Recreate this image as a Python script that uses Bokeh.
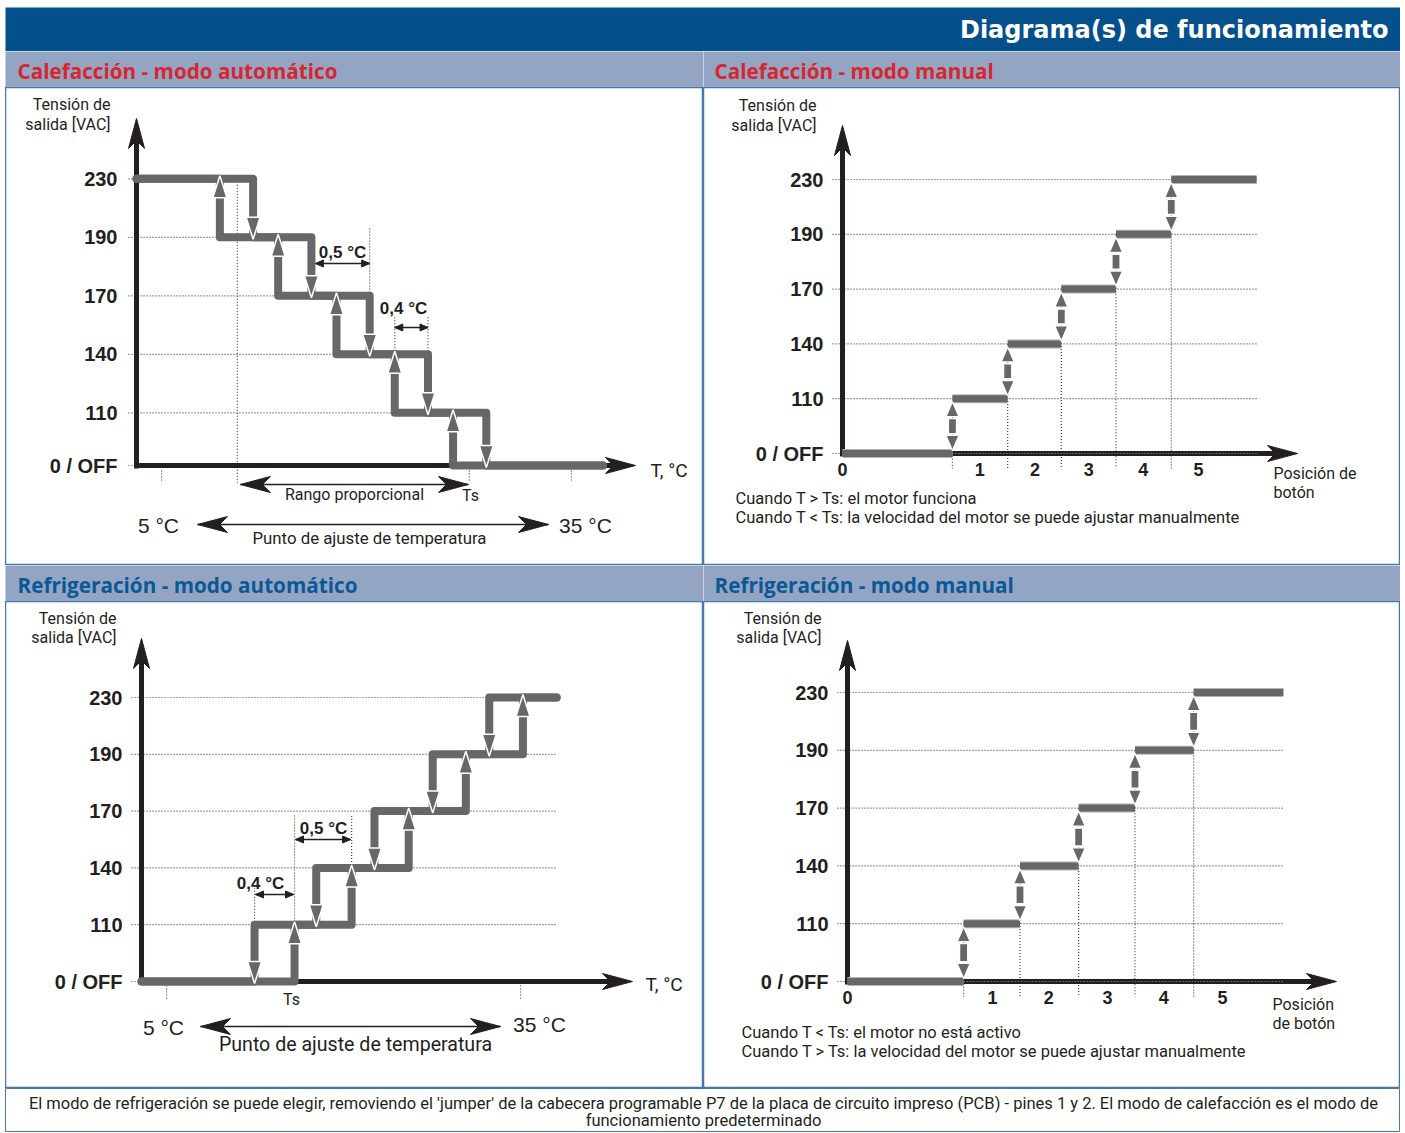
from bokeh.plotting import figure
from bokeh.layouts import column, row
from bokeh.models import ColumnDataSource, Range1d, LinearAxis, FixedTicker, Spacer
from bokeh.core.properties import value
from bokeh.embed import file_html
from bokeh.resources import INLINE

# ---------------- data ----------------
LEVELS = ["0 / OFF", "110", "140", "170", "190", "230"]
KNOB_LABELS = ["0", "1", "2", "3", "4", "5"]

# x unit = one step of the proportional band
HEAT_AUTO_DOWN_X = [2.0, 3.0, 4.0, 5.0, 6.0]        # T rising: 230->190->170->140->110->0
HEAT_AUTO_UP_X = [1.43, 2.43, 3.43, 4.43, 5.43]     # T falling: 0->110->...->230
HEAT_AUTO_END_X = 8.0
HEAT_AUTO_TS_X = 5.71
HEAT_AUTO_BAND_START_X = 1.73
HEAT_AUTO_TMIN_X = 0.43
HEAT_AUTO_TMAX_X = 7.46

COOL_AUTO_UP_X = [2.68, 3.68, 4.68, 5.68, 6.68]     # T rising: 0->110->...->230
COOL_AUTO_DOWN_X = [1.98, 3.06, 4.08, 5.10, 6.09]   # T falling
COOL_AUTO_END_X = 7.27
COOL_AUTO_TS_X = 2.68
COOL_AUTO_TMIN_X = 0.44
COOL_AUTO_TMAX_X = 6.64

HEAT_MAN_SWITCH_X = [2.01, 3.02, 4.0, 5.0, 6.01]
HEAT_MAN_END_X = 7.57
COOL_MAN_SWITCH_X = [2.02, 3.0, 4.02, 5.0, 6.02]
COOL_MAN_END_X = 7.58

# ---------------- style ----------------
GRAY = "#676767"
AXC = "#231f20"
DOT = "#404040"
BORDER = "#4479ad"
HEAD_BG = "#03508b"
BAND_BG = "#94a5c4"
RED = "#d7262e"
BLUE = "#0b5894"
OFF_X, OFF_Y = 5, 7
LEFT_W, RIGHT_W = 698, 697
TOTAL_W = LEFT_W + RIGHT_W
SMALL = 16.5


def frame_fig(w, h, bg, outline=None):
    p = figure(width=w, height=h, x_range=Range1d(0, w), y_range=Range1d(0, h),
               min_border=0, toolbar_location=None, output_backend="svg",
               x_axis_location=None, y_axis_location=None,
               background_fill_color=bg, border_fill_color=bg,
               outline_line_color=outline)
    p.grid.grid_line_color = None
    return p


def put_text(p, x, y, s, size, font="Roboto", style="normal", align="left",
             color=AXC, baseline="middle"):
    src = ColumnDataSource(dict(x=[x], y=[y], t=[s]))
    p.text(x="x", y="y", text="t", source=src, text_font=value(font),
           text_font_size=value(f"{size}px"), text_font_style=style,
           text_align=align, text_baseline=baseline, text_color=color)


def style_axis(ax, size, standoff):
    ax.axis_line_color = AXC
    ax.axis_line_width = 5
    ax.major_tick_line_color = None
    ax.minor_tick_line_color = None
    ax.major_tick_in = 0
    ax.major_tick_out = 0
    ax.minor_tick_in = 0
    ax.minor_tick_out = 0
    ax.major_label_text_font = "Liberation Sans"
    ax.major_label_text_font_style = "bold"
    ax.major_label_text_font_size = f"{size}px"
    ax.major_label_text_color = AXC
    ax.major_label_standoff = standoff


class Panel:
    def __init__(self, w, h, page_x, page_y, ox, oy, ux, uy, ypos):
        self.ox, self.oy, self.ux, self.uy = ox, oy, ux, uy
        self.ypos = list(ypos)
        xr = Range1d((page_x - ox) / ux, (page_x + w - ox) / ux)
        yr = Range1d((oy - page_y - h) / uy, (oy - page_y) / uy)
        p = figure(width=w, height=h, x_range=xr, y_range=yr, min_border=0,
                   toolbar_location=None, output_backend="svg",
                   x_axis_location=None, y_axis_location=None,
                   background_fill_color="white", border_fill_color="white",
                   outline_line_color=BORDER)
        p.outline_line_width = 1.5
        p.grid.grid_line_color = None
        self.p = p

    def X(self, px):
        return (px - self.ox) / self.ux

    def Y(self, py):
        return (self.oy - py) / self.uy

    def dx(self, n):
        return n / self.ux

    def dy(self, n):
        return n / self.uy

    def head(self, tx, ty, d, L, W, notch=0.0):
        ex, ey = {"left": (-1, 0), "right": (1, 0), "up": (0, 1), "down": (0, -1)}[d]
        qx, qy = -ey, ex
        pts = [(0, 0), (-ex * L + qx * W, -ey * L + qy * W)]
        if notch:
            pts.append((-ex * (L - notch), -ey * (L - notch)))
        pts.append((-ex * L - qx * W, -ey * L - qy * W))
        return ([tx + a / self.ux for a, b in pts], [ty + b / self.uy for a, b in pts])

    def axes(self, ytip_px, xtip_px, xticks=None, xlabels=None):
        p = self.p
        L, W, N = 30, 8, 8
        yax = LinearAxis(fixed_location=0,
                         bounds=(self.Y(self.oy + 2.5), self.Y(ytip_px + L - N)),
                         ticker=FixedTicker(ticks=self.ypos),
                         major_label_overrides={float(v): lab for v, lab in zip(self.ypos, LEVELS)})
        style_axis(yax, 20, 19)
        p.add_layout(yax, "left")
        xt = list(xticks or [])
        xax = LinearAxis(fixed_location=0,
                         bounds=(self.X(self.ox - 2.5), self.X(xtip_px - L + N)),
                         ticker=FixedTicker(ticks=xt),
                         major_label_overrides={float(v): lab for v, lab in zip(xt, xlabels or [])})
        style_axis(xax, 18, 9)
        p.add_layout(xax, "below")
        a = self.head(0, self.Y(ytip_px), "up", L, W, N)
        b = self.head(self.X(xtip_px), 0, "right", L, W, N)
        p.patches(xs=[a[0], b[0]], ys=[a[1], b[1]], fill_color=AXC, line_color=AXC,
                  line_width=1, level="annotation")

    def dotted(self, x0, y0, x1, y1, color=DOT, level="glyph"):
        src = ColumnDataSource(dict(x0=list(x0), y0=list(y0), x1=list(x1), y1=list(y1)))
        self.p.segment(x0="x0", y0="y0", x1="x1", y1="y1", source=src, line_color=color,
                       line_width=1.2, line_dash="1 2", level=level)

    def double_arrow(self, xa, xb, y, L, W, notch=0.0, lw=1.5):
        self.p.segment(x0=[xa], y0=[y], x1=[xb], y1=[y], line_color=AXC, line_width=lw)
        h1 = self.head(xa, y, "left", L, W, notch)
        h2 = self.head(xb, y, "right", L, W, notch)
        self.p.patches(xs=[h1[0], h2[0]], ys=[h1[1], h2[1]], fill_color=AXC,
                       line_color=AXC, line_width=1)

    def step_arrows(self, ups, downs):
        xs, ys = [], []
        for x, y in ups:
            hx, hy = self.head(x, y + self.dy(3), "up", 22, 7)
            xs.append(hx)
            ys.append(hy)
        for x, y in downs:
            hx, hy = self.head(x, y - self.dy(2), "down", 22, 7)
            xs.append(hx)
            ys.append(hy)
        self.p.patches(xs=xs, ys=ys, fill_color=GRAY, line_color="white",
                       line_width=1.5, level="annotation")

    def vac_label(self, right_px, y1_px, y2_px):
        put_text(self.p, self.X(right_px), self.Y(y1_px), "Tensión de", 16, align="right")
        put_text(self.p, self.X(right_px), self.Y(y2_px), "salida [VAC]", 16, align="right")


def manual(P, switch, end_x, ytip, xtip):
    L = P.ypos
    p = P.p
    gx0 = P.X(P.ox - 10)
    P.dotted([gx0] * 6, L, [0] + [end_x] * 5, L)
    P.dotted(switch, [L[k + 1] for k in range(5)], switch, [P.Y(P.oy + 15)] * 5)
    P.axes(ytip, xtip, xticks=[0] + [s + 0.5 for s in switch], xlabels=KNOB_LABELS)
    P.dotted([switch[0]], [L[0]], [end_x], [L[0]], color="#9a9a9a", level="annotation")
    starts = [0] + switch
    ends = switch + [end_x]
    src = ColumnDataSource(dict(x0=starts, x1=ends, y=L))
    p.segment(x0="x0", y0="y", x1="x1", y1="y", source=src, line_color="#b4b4b4",
              line_width=9, line_cap="butt", level="annotation")
    p.segment(x0="x0", y0="y", x1="x1", y1="y", source=src, line_color=GRAY,
              line_width=7, line_cap="butt", level="annotation")
    xs, ys = [], []
    for k, s in enumerate(switch):
        lo, hi = L[k], L[k + 1]
        ut = hi - P.dy(3)
        dt = lo + P.dy(3)
        a = P.head(s, ut, "up", 15, 6.5)
        b = P.head(s, dt, "down", 15, 6.5)
        xs += [a[0], b[0]]
        ys += [a[1], b[1]]
        s0 = dt + P.dy(17)
        s1 = ut - P.dy(17)
        hw = P.dx(4)
        xs.append([s - hw, s + hw, s + hw, s - hw])
        ys.append([s0, s0, s1, s1])
    p.patches(xs=xs, ys=ys, fill_color=GRAY, line_color="white", line_width=1.2,
              level="annotation")


# ---------------- header / bands / footer ----------------
header = frame_fig(TOTAL_W, 44, HEAD_BG)
put_text(header, 1383, 22, "Diagrama(s) de funcionamiento", 24, "DejaVu Sans", "bold",
         "right", "white")

band_tl = frame_fig(LEFT_W, 36, BAND_BG)
put_text(band_tl, 12, 17, "Calefacción - modo automático", 20.7, "Open Sans", "bold", "left", RED)
band_tr = frame_fig(RIGHT_W, 36, BAND_BG)
put_text(band_tr, 11, 17, "Calefacción - modo manual", 20.7, "Open Sans", "bold", "left", RED)
band_bl = frame_fig(LEFT_W, 36, BAND_BG)
put_text(band_bl, 12, 17, "Refrigeración - modo automático", 20.7, "Open Sans", "bold", "left", BLUE)
band_br = frame_fig(RIGHT_W, 36, BAND_BG)
put_text(band_br, 11, 17, "Refrigeración - modo manual", 20.7, "Open Sans", "bold", "left", BLUE)

footer = frame_fig(TOTAL_W, 44, "white", outline=BORDER)
put_text(footer, 698, 29, "El modo de refrigeración se puede elegir, removiendo el 'jumper' de la "
         "cabecera programable P7 de la placa de circuito impreso (PCB) - pines 1 y 2. "
         "El modo de calefacción es el modo de", SMALL, align="center")
put_text(footer, 698, 12, "funcionamiento predeterminado", SMALL, align="center")

# ---------------- heating automatic ----------------
tl = Panel(LEFT_W, 478, OFF_X, 87, 136, 465, 58.3, 58.5, [0, 0.9, 1.9, 2.9, 3.9, 4.9])
L = tl.ypos
D, U = HEAT_AUTO_DOWN_X, HEAT_AUTO_UP_X
gx0 = tl.X(128)
tl.dotted([gx0] * 6, L, [0] + [U[4 - i] for i in range(1, 5)] + [0], L)
tl.dotted([D[2]], [tl.Y(228)], [D[2]], [L[3]])
tl.dotted([U[3], D[3]], [L[2], L[2]], [U[3], D[3]], [tl.Y(315)] * 2)
tl.dotted([HEAT_AUTO_BAND_START_X], [L[5]], [HEAT_AUTO_BAND_START_X], [tl.Y(482)])
tks = [HEAT_AUTO_TMIN_X, HEAT_AUTO_TS_X, HEAT_AUTO_TMAX_X]
tl.dotted(tks, [tl.Y(470)] * 3, tks, [tl.Y(482)] * 3)
tl.axes(118, 635)
dn_x, dn_y = [0], [L[5]]
for k, d in enumerate(D):
    dn_x += [d, d]
    dn_y += [L[5 - k], L[4 - k]]
dn_x.append(HEAT_AUTO_END_X)
dn_y.append(L[0])
up_x, up_y = [HEAT_AUTO_END_X], [L[0]]
for k in reversed(range(5)):
    up_x += [U[k], U[k]]
    up_y += [L[4 - k], L[5 - k]]
up_x.append(0)
up_y.append(L[5])
tl.p.multi_line(xs=[dn_x, up_x], ys=[dn_y, up_y], line_color=GRAY, line_width=8,
                line_join="round", line_cap="round", level="annotation")
tl.step_arrows([(U[k], L[5 - k]) for k in range(5)], [(D[k], L[4 - k]) for k in range(5)])
tl.vac_label(110, 104, 124)
tl.double_arrow(D[1] + tl.dx(4), D[2], tl.Y(263), 8, 3.5)
put_text(tl.p, tl.X(342), tl.Y(252), "0,5 °C", 17, "Liberation Sans", "bold", "center")
tl.double_arrow(U[3], D[3], tl.Y(327), 8, 3.5)
put_text(tl.p, tl.X(403), tl.Y(308), "0,4 °C", 17, "Liberation Sans", "bold", "center")
tl.double_arrow(HEAT_AUTO_BAND_START_X + tl.dx(3), HEAT_AUTO_TS_X - tl.dx(1), tl.Y(484), 30, 8, 8)
put_text(tl.p, tl.X(354), tl.Y(494), "Rango proporcional", 16, align="center")
put_text(tl.p, tl.X(470), tl.Y(495), "Ts", 16, align="center")
put_text(tl.p, tl.X(650), tl.Y(470), "T, °C", 19)
put_text(tl.p, tl.X(158), tl.Y(525), "5 °C", 21, "Liberation Sans", align="center")
put_text(tl.p, tl.X(585), tl.Y(525), "35 °C", 21, "Liberation Sans", align="center")
tl.double_arrow(tl.X(197), tl.X(548), tl.Y(524), 30, 8, 8)
put_text(tl.p, tl.X(369), tl.Y(537), "Punto de ajuste de temperatura", 16.8, align="center")

# ---------------- heating manual ----------------
tr = Panel(RIGHT_W, 478, OFF_X + LEFT_W, 87, 842, 453, 54.7, 54.8, [0, 1, 2, 3, 4, 5])
manual(tr, HEAT_MAN_SWITCH_X, HEAT_MAN_END_X, 125, 1297)
tr.vac_label(816, 105, 125)
put_text(tr.p, tr.X(1273), tr.Y(473), "Posición de", 16)
put_text(tr.p, tr.X(1273), tr.Y(492), "botón", 16)
put_text(tr.p, tr.X(735), tr.Y(498), "Cuando T > Ts: el motor funciona", SMALL)
put_text(tr.p, tr.X(735), tr.Y(517),
         "Cuando T < Ts: la velocidad del motor se puede ajustar manualmente", SMALL)

# ---------------- cooling automatic ----------------
bl = Panel(LEFT_W, 487, OFF_X, 601, 141, 981, 57.1, 56.8, [0, 1, 2, 3, 4, 5])
L = bl.ypos
U, D = COOL_AUTO_UP_X, COOL_AUTO_DOWN_X
gx0 = bl.X(131)
bl.dotted([gx0] * 6, L, [0] + [COOL_AUTO_END_X] * 5, L)
bl.dotted([U[0], U[1]], [L[0], L[2]], [U[0], U[1]], [bl.Y(815)] * 2)
bl.dotted([D[0]], [L[1]], [D[0]], [bl.Y(886)])
tks = [COOL_AUTO_TMIN_X, COOL_AUTO_TMAX_X]
bl.dotted(tks, [bl.Y(985)] * 2, tks, [bl.Y(998)] * 2)
bl.axes(638, 632)
u_x, u_y = [0], [L[0]]
for k, u in enumerate(U):
    u_x += [u, u]
    u_y += [L[k], L[k + 1]]
u_x.append(COOL_AUTO_END_X)
u_y.append(L[5])
d_x, d_y = [COOL_AUTO_END_X], [L[5]]
for k in reversed(range(5)):
    d_x += [D[k], D[k]]
    d_y += [L[k + 1], L[k]]
d_x.append(0)
d_y.append(L[0])
bl.p.multi_line(xs=[u_x, d_x], ys=[u_y, d_y], line_color=GRAY, line_width=8,
                line_join="round", line_cap="round", level="annotation")
bl.step_arrows([(U[k], L[k + 1]) for k in range(5)], [(D[k], L[k]) for k in range(5)])
bl.vac_label(116, 618, 637)
bl.double_arrow(D[0] + bl.dx(1), U[0] - bl.dx(1), bl.Y(894), 8, 3.5)
put_text(bl.p, bl.X(260), bl.Y(883), "0,4 °C", 17, "Liberation Sans", "bold", "center")
bl.double_arrow(U[0] + bl.dx(1), U[1] - bl.dx(1), bl.Y(839), 8, 3.5)
put_text(bl.p, bl.X(323), bl.Y(828), "0,5 °C", 17, "Liberation Sans", "bold", "center")
put_text(bl.p, bl.X(291), bl.Y(999), "Ts", 16, align="center")
put_text(bl.p, bl.X(645), bl.Y(984), "T, °C", 19)
put_text(bl.p, bl.X(163), bl.Y(1027), "5 °C", 21, "Liberation Sans", align="center")
put_text(bl.p, bl.X(539), bl.Y(1024), "35 °C", 21, "Liberation Sans", align="center")
bl.double_arrow(bl.X(200), bl.X(500), bl.Y(1026), 30, 8, 8)
put_text(bl.p, bl.X(355), bl.Y(1044), "Punto de ajuste de temperatura", 19.6, align="center")

# ---------------- cooling manual ----------------
br = Panel(RIGHT_W, 487, OFF_X + LEFT_W, 601, 847, 981, 57.5, 57.8, [0, 1, 2, 3, 4, 5])
manual(br, COOL_MAN_SWITCH_X, COOL_MAN_END_X, 640, 1336)
br.vac_label(821, 618, 637)
put_text(br.p, br.X(1272), br.Y(1004), "Posición", 16)
put_text(br.p, br.X(1272), br.Y(1023), "de botón", 16)
put_text(br.p, br.X(741), br.Y(1032), "Cuando T < Ts: el motor no está activo", SMALL)
put_text(br.p, br.X(741), br.Y(1051),
         "Cuando T > Ts: la velocidad del motor se puede ajustar manualmente", SMALL)

content = column(header, row(band_tl, band_tr), row(tl.p, tr.p), row(band_bl, band_br),
                 row(bl.p, br.p), footer)
layout = row(Spacer(width=OFF_X), column(Spacer(height=OFF_Y), content))

open("out.html", "w").write(file_html(layout, INLINE, title="Diagrama(s) de funcionamiento"))
